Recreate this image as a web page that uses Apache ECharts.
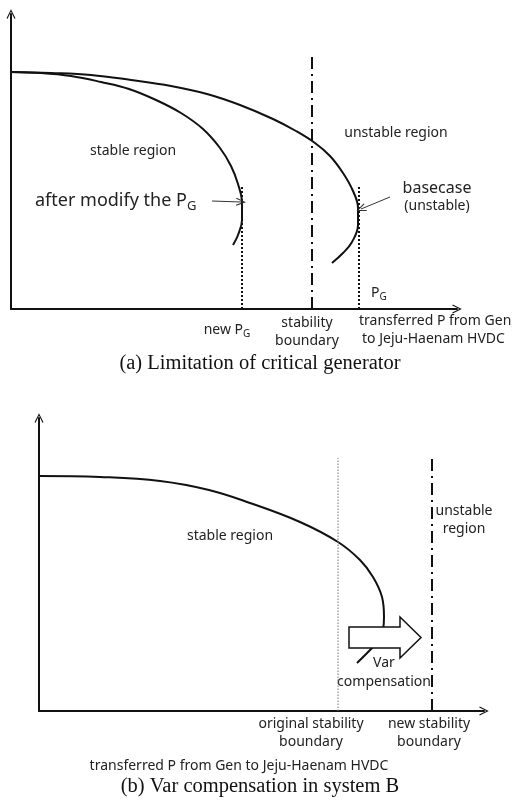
<!DOCTYPE html>
<html>
<head>
<meta charset="utf-8">
<script src="https://cdn.jsdelivr.net/npm/echarts@6/dist/echarts.min.js"></script>
<style>
  html, body { margin: 0; padding: 0; background: #fff; }
  #chart { width: 512px; height: 801px; }
</style>
</head>
<body>
<div id="chart"></div>
<script>
// panel (a): nose curves, units = grid distance from origin
const aBaseCurve = [[0, 237], [40, 236], [80, 234], [120, 229], [160, 223], [196, 215], [229, 204],
    [262, 190], [285, 178], [304, 166], [319, 153], [332, 136], [342, 118], [347, 101], [347, 84],
    [341, 67], [332, 56], [321, 46]];
const aNewCurve = [[0, 237], [30, 236], [60, 233], [90, 227], [118, 220], [145, 209], [170, 196],
    [192, 180], [209, 161], [220, 143], [227, 125], [231, 106], [231, 89], [227, 74], [222, 64]];
const aNewPg = [[231, 0], [231, 124]];
const aBasePg = [[348, 0], [348, 124]];
const aBoundary = [[301, 0], [301, 254]];
const aArrowNew = [[201, 108], [230, 107]];
const aArrowBase = [[379, 112], [350, 100]];

// panel (b)
const bCurveTop = [[0, 235], [61, 234], [121, 230], [170, 221], [211, 208], [261, 189], [299, 169],
    [321, 151], [334, 134], [343, 114], [345, 94], [344, 81], [340, 71], [333, 63], [318, 48]];
const bOrigBoundary = [[299, 0], [299, 253]];
const bNewBoundary = [[393, 0], [393, 253]];
// [start, neck, tip, centre y, body half height, head half height]
const bVarArrow = [[310, 361, 382, 73.5, 10.5, 20.5]];

const chevron = 'path://M0,10L5,0L10,10L8.8,10.6L5,2.6L1.2,10.6Z';
const ink = '#111';
const sans = 'Noto Sans';
const serif = 'Liberation Serif';

function axisPair(gridIndex, xMax, yMax) {
    const common = {
        type: 'value', min: 0, gridIndex: gridIndex,
        axisTick: { show: false }, axisLabel: { show: false }, splitLine: { show: false },
        axisLine: { show: true, symbol: ['none', chevron], symbolSize: [9, 12], lineStyle: { color: ink, width: 2 } }
    };
    return [Object.assign({ max: xMax }, common), Object.assign({ max: yMax }, common)];
}
const axesA = axisPair(0, 446, 295);
const axesB = axisPair(1, 445, 293);

function curve(data, xi, extra) {
    return Object.assign({
        type: 'line', xAxisIndex: xi, yAxisIndex: xi, data: data, smooth: 0.4,
        showSymbol: false, symbol: 'none', silent: true, animation: false,
        lineStyle: { color: ink, width: 2 }
    }, extra || {});
}

function vline(data, xi, style) {
    return curve(data, xi, { smooth: false, lineStyle: style });
}

function pointer(data) {
    return {
        silent: true, animation: false, symbol: ['none', chevron], symbolSize: [8, 10],
        label: { show: false }, lineStyle: { color: '#333', width: 1, type: 'solid' },
        data: [[{ coord: data[0] }, { coord: data[1] }]]
    };
}

function txt(x, y, text, size, extra) {
    return {
        type: 'text', x: x, y: y, silent: true,
        style: Object.assign({
            text: text, fill: '#222', font: size + 'px "' + sans + '"',
            align: 'center', verticalAlign: 'middle'
        }, extra || {})
    };
}

// text with a P_G at its end
function withPg(x, y, lead, size, align) {
    return txt(x, y, '{t|' + lead + '}{p|P}{g|G}', size, {
        align: align || 'center',
        rich: {
            t: { fontSize: size, fontFamily: sans, fill: '#222' },
            p: { fontSize: size, fontFamily: sans, fill: '#222' },
            g: { fontSize: Math.round(size * 0.72), fontFamily: sans, fill: '#222', padding: [Math.round(size * 0.6), 0, 0, 0] }
        }
    });
}

const chart = echarts.init(document.getElementById('chart'));
chart.setOption({
    backgroundColor: '#fff',
    animation: false,
    grid: [
        { left: 11, top: 14, width: 446, height: 295 },
        { left: 39, top: 418, width: 445, height: 293 }
    ],
    xAxis: [axesA[0], axesB[0]],
    yAxis: [axesA[1], axesB[1]],
    series: [
        curve(aBaseCurve, 0, { markLine: pointer(aArrowBase) }),
        curve(aNewCurve, 0, { markLine: pointer(aArrowNew) }),
        vline(aNewPg, 0, { color: ink, width: 2, type: [2, 2] }),
        vline(aBasePg, 0, { color: ink, width: 2, type: [2, 2] }),
        vline(aBoundary, 0, { color: ink, width: 2, type: [12, 5, 2, 5] }),
        curve(bCurveTop, 1),
        vline(bOrigBoundary, 1, { color: '#777', width: 1, type: [1.5, 1.5] }),
        vline(bNewBoundary, 1, { color: ink, width: 2, type: [12, 5, 2, 5] }),
        {
            type: 'custom', xAxisIndex: 1, yAxisIndex: 1, z: 5, silent: true,
            data: bVarArrow,
            encode: { x: [0, 1, 2], y: 3 },
            renderItem: function (params, api) {
                const x0 = api.value(0), xn = api.value(1), xt = api.value(2);
                const yc = api.value(3), bh = api.value(4), hh = api.value(5);
                const pts = [[x0, yc + bh], [xn, yc + bh], [xn, yc + hh], [xt, yc],
                    [xn, yc - hh], [xn, yc - bh], [x0, yc - bh]].map(function (p) { return api.coord(p); });
                return {
                    type: 'polygon', shape: { points: pts },
                    style: { fill: '#fff', stroke: ink, lineWidth: 1.5 }
                };
            }
        }
    ],
    graphic: [
        // panel (a)
        txt(133, 151, 'stable region', 14),
        txt(396, 133, 'unstable region', 14),
        withPg(35, 201, 'after modify the ', 18, 'left'),
        txt(437, 188, 'basecase', 16),
        txt(437, 206, '(unstable)', 14),
        withPg(371, 293, '', 14, 'left'),
        withPg(227, 330, 'new ', 14),
        txt(307, 323, 'stability', 14),
        txt(307, 341, 'boundary', 14),
        txt(359, 321, 'transferred P from Gen', 14, { align: 'left' }),
        txt(362, 339, 'to Jeju-Haenam HVDC', 14, { align: 'left' }),
        txt(260, 364, '(a) Limitation of critical generator', 20, { font: '20.5px "' + serif + '"', fill: '#111' }),
        // panel (b)
        txt(230, 536, 'stable region', 14),
        txt(464, 511, 'unstable', 14),
        txt(464, 529, 'region', 14),
        txt(384, 663, 'Var', 14),
        txt(384, 682, 'compensation', 14),
        txt(311, 724, 'original stability', 14),
        txt(311, 742, 'boundary', 14),
        txt(429, 724, 'new stability', 14),
        txt(429, 742, 'boundary', 14),
        txt(239, 766, 'transferred P from Gen to Jeju-Haenam HVDC', 14),
        txt(260, 787, '(b) Var compensation in system B', 20, { font: '20.5px "' + serif + '"', fill: '#111' })
    ]
});
</script>
</body>
</html>
